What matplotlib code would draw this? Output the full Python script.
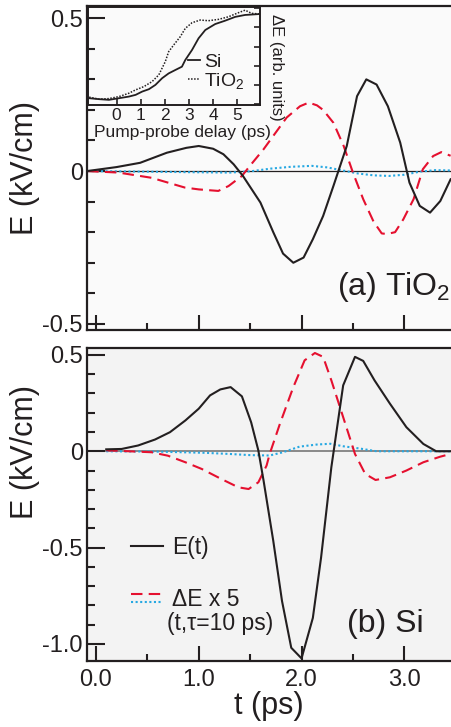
import matplotlib.pyplot as plt
from matplotlib.ticker import MultipleLocator, FixedLocator
from matplotlib.legend_handler import HandlerBase
from matplotlib.lines import Line2D

plt.rcParams['font.family'] = ['Liberation Sans', 'DejaVu Sans']
plt.rcParams['mathtext.fontset'] = 'custom'
plt.rcParams['mathtext.rm'] = 'Liberation Sans'
plt.rcParams['mathtext.it'] = 'Liberation Sans:italic'

INK = '#231f20'
RED = '#e5102f'
BLUE = '#26a8e2'

# ---- (a) TiO2 panel data ----
ta_E = [-0.085, 0.2, 0.43, 0.69, 0.88, 1.0, 1.14, 1.24, 1.34, 1.43, 1.6, 1.725, 1.82, 1.92,
        2.02, 2.11, 2.21, 2.31, 2.44, 2.54, 2.63, 2.73, 2.84, 2.96, 3.05, 3.15, 3.25, 3.35, 3.45]
Ea = [0, 0.013, 0.027, 0.06, 0.076, 0.082, 0.073, 0.055, 0.022, -0.016, -0.103, -0.2, -0.27, -0.30,
      -0.283, -0.223, -0.147, -0.049, 0.082, 0.245, 0.30, 0.283, 0.212, 0.093, -0.038, -0.114, -0.136, -0.098, -0.027]

ta_dE = [-0.085, 0.22, 0.54, 0.865, 1.0, 1.19, 1.29, 1.42, 1.51, 1.63, 1.725, 1.855, 1.985, 2.07, 2.15,
         2.21, 2.31, 2.41, 2.5, 2.6, 2.7, 2.78, 2.83, 2.91, 2.99, 3.09, 3.18, 3.28, 3.36, 3.45]
dEa = [0, -0.005, -0.022, -0.054, -0.06, -0.065, -0.049, -0.016, 0.022, 0.071, 0.115, 0.175, 0.212, 0.224, 0.215,
       0.2, 0.158, 0.082, -0.005, -0.092, -0.165, -0.204, -0.206, -0.2, -0.158, -0.092, 0.006, 0.049, 0.062, 0.05]

ta_bl = [-0.085, 0.5, 1.0, 1.3, 1.5, 1.7, 1.9, 2.1, 2.25, 2.4, 2.55, 2.7, 2.85, 3.0, 3.15, 3.3, 3.45]
bla = [0, -0.002, -0.004, -0.005, -0.001, 0.008, 0.014, 0.017, 0.012, 0.002, -0.008, -0.014, -0.016, -0.012,
       -0.002, 0.003, 0.002]

# ---- (b) Si panel data ----
tb_E = [0.1, 0.25, 0.41, 0.575, 0.72, 0.87, 1.0, 1.11, 1.21, 1.31, 1.42, 1.51, 1.58, 1.63, 1.725, 1.81,
        1.9, 2.0, 2.11, 2.19, 2.29, 2.405, 2.52, 2.6, 2.71, 2.86, 3.02, 3.185, 3.31, 3.45]
Eb = [0.01, 0.012, 0.03, 0.061, 0.099, 0.16, 0.221, 0.29, 0.321, 0.333, 0.285, 0.15, 0.004, -0.15, -0.465, -0.777,
      -1.02, -1.075, -0.865, -0.552, -0.083, 0.342, 0.49, 0.469, 0.368, 0.247, 0.125, 0.038, 0.0, 0.0]

tb_dE = [0.1, 0.54, 0.7, 0.87, 1.03, 1.22, 1.385, 1.485, 1.58, 1.66, 1.69, 1.79, 1.92, 2.03, 2.13, 2.21,
         2.29, 2.405, 2.52, 2.62, 2.72, 2.86, 3.02, 3.185, 3.35, 3.45]
dEb = [0.005, -0.005, -0.023, -0.057, -0.092, -0.144, -0.187, -0.196, -0.161, -0.074, -0.014, 0.143, 0.333, 0.472,
       0.51, 0.49, 0.368, 0.177, -0.014, -0.118, -0.149, -0.135, -0.1, -0.057, -0.028, -0.014]

tb_bl = [0.1, 0.6, 1.06, 1.3, 1.5, 1.69, 1.82, 1.98, 2.15, 2.28, 2.405, 2.57, 2.73, 3.0, 3.45]
blb = [0.0, -0.002, -0.008, -0.014, -0.02, -0.022, -0.005, 0.024, 0.035, 0.039, 0.026, 0.014, 0.0, 0.0, 0.0]

# ---- inset: pump-probe scans ----
d_si = [-1.14, -0.73, -0.32, 0.1, 0.51, 0.79, 1.06, 1.34, 1.61, 1.89, 2.16, 2.44, 2.71, 2.85, 3.13,
        3.4, 3.68, 4.09, 4.5, 4.92, 5.33, 5.95]
v_si = [0.061, 0.051, 0.044, 0.061, 0.078, 0.096, 0.13, 0.155, 0.2, 0.27, 0.32, 0.356, 0.39, 0.46, 0.565,
        0.686, 0.773, 0.835, 0.87, 0.91, 0.93, 0.94]
d_ti = [-1.14, -0.73, -0.32, 0.1, 0.51, 0.79, 1.13, 1.47, 1.75, 2.02, 2.16, 2.37, 2.64, 2.85, 3.13,
        3.47, 3.81, 4.23, 4.64, 5.05, 5.33, 5.6, 5.95]
v_ti = [0.072, 0.051, 0.057, 0.078, 0.113, 0.148, 0.182, 0.234, 0.304, 0.443, 0.547, 0.617, 0.703, 0.79, 0.849,
        0.877, 0.87, 0.884, 0.911, 0.953, 0.98, 0.947, 0.94]

x_ticks = [0.0, 1.0, 2.0, 3.0]
x_ticklabels = ['0.0', '1.0', '2.0', '3.0']


class StackedHandler(HandlerBase):
    # draws the lines of a tuple handle one above the other
    def create_artists(self, legend, orig_handle, xdescent, ydescent, width, height, fontsize, trans):
        out = []
        for h, f in zip(orig_handle, [0.78, 0.3]):
            ln = Line2D([0, 1], [0, 1])
            ln.update_from(h)
            ln.set_data([-xdescent, -xdescent + width], [height * f - ydescent] * 2)
            ln.set_transform(trans)
            out.append(ln)
        return out


def style_main(ax, face):
    ax.set_facecolor(face)
    for s in ['left', 'top', 'bottom']:
        ax.spines[s].set_linewidth(1.6)
        ax.spines[s].set_color(INK)
    ax.spines['right'].set_visible(False)
    ax.set_xlim(-0.087, 3.454)
    ax.xaxis.set_major_locator(FixedLocator(x_ticks))
    ax.xaxis.set_minor_locator(MultipleLocator(0.5))
    ax.yaxis.set_major_locator(MultipleLocator(0.5))
    ax.yaxis.set_minor_locator(MultipleLocator(0.1))
    ax.tick_params(which='both', direction='in', color=INK, width=1.5, labelsize=17,
                   labelcolor=INK, top=False, right=False)
    ax.tick_params(axis='y', which='major', length=13, pad=3)
    ax.tick_params(axis='x', which='major', length=10.5, pad=6)
    ax.tick_params(which='minor', length=5.4)
    ax.set_ylabel('E (kV/cm)', fontsize=22, color=INK)


fig = plt.figure(figsize=(4.51, 7.27), dpi=100)
ax1 = fig.add_axes([87 / 451, 1 - 330 / 727, 364 / 451, 324 / 727])
ax2 = fig.add_axes([87 / 451, 1 - 660.7 / 727, 364 / 451, 312.7 / 727])
axin = fig.add_axes([87.7 / 451, 1 - 105 / 727, 172.3 / 451, 97.7 / 727])

# (a) TiO2
style_main(ax1, '#fafafa')
ax1.set_ylim(-0.52, 0.54)
ax1.axhline(0, color=INK, lw=0.9, zorder=1)
ax1.plot(ta_bl, bla, color=BLUE, lw=1.5, linestyle=(0, (1, 1.2)))
ax1.plot(ta_dE, dEa, color=RED, lw=1.5, linestyle=(0, (5.5, 3)))
ax1.plot(ta_E, Ea, color=INK, lw=1.5)
ax1.set_yticks([0.5, 0, -0.5], ['0.5', '0', '-0.5'])
ax1.tick_params(labelbottom=False)
ax1.yaxis.set_label_coords(-0.128, 0.5)
ax1.text(0.688, 0.108, '(a) TiO$_2$', transform=ax1.transAxes, fontsize=23, color=INK,
         ha='left', va='baseline')

# (b) Si
style_main(ax2, '#f3f3f3')
ax2.set_ylim(-1.087, 0.536)
ax2.axhline(0, color='#808080', lw=1.3, zorder=1)
ax2.plot(tb_bl, blb, color=BLUE, lw=1.5, linestyle=(0, (1, 1.2)))
l_red, = ax2.plot(tb_dE, dEb, color=RED, lw=1.5, linestyle=(0, (5.5, 3)))
l_E, = ax2.plot(tb_E, Eb, color=INK, lw=1.5)
l_blue = Line2D([], [], color=BLUE, lw=1.5, linestyle=(0, (1, 1.2)))
ax2.set_yticks([0.5, 0, -0.5, -1.0], ['0.5', '0', '-0.5', '-1.0'])
ax2.set_xticks(x_ticks, x_ticklabels)
ax2.set_xlabel('t (ps)', fontsize=22, color=INK, labelpad=0)
ax2.yaxis.set_label_coords(-0.128, 0.667)
leg = ax2.legend([l_E, (l_red, l_blue)], ['E(t)', '\u0394E x 5'],
                 handler_map={tuple: StackedHandler()}, loc='upper left',
                 bbox_to_anchor=(0.121, 0.40), frameon=False, fontsize=16.5,
                 handlelength=1.4, handletextpad=0.38, labelspacing=1.3,
                 borderpad=0, borderaxespad=0, labelcolor=INK)
ax2.text(0.22, 0.118, '(t,\u03c4=10 ps)', transform=ax2.transAxes, fontsize=16.5,
         color=INK, ha='left', va='center')
ax2.text(0.713, 0.092, '(b) Si', transform=ax2.transAxes, fontsize=23, color=INK,
         ha='left', va='baseline')

# inset
axin.set_facecolor('none')
for s in axin.spines.values():
    s.set_linewidth(1.4)
    s.set_color(INK)
axin.plot(d_si, v_si, color=INK, lw=1.3)
axin.plot(d_ti, v_ti, color=INK, lw=1.1, linestyle=(0, (1, 1)))
axin.set_xlim(-1.2, 5.95)
axin.set_ylim(-0.01, 1.01)
axin.set_xticks([0, 1, 2, 3, 4, 5])
axin.yaxis.set_major_locator(MultipleLocator(0.2))
axin.tick_params(direction='in', length=4, width=1.2, color=INK, labelsize=12.5,
                 labelcolor=INK, pad=2, left=False, labelleft=False, right=True)
axin.set_xlabel('Pump-probe delay (ps)', fontsize=12.5, color=INK)
axin.xaxis.set_label_coords(0.55, -0.2)
axin.text(1.095, 0.39, '\u0394E (arb. units)', transform=axin.transAxes, rotation=-90,
          fontsize=12, color=INK, ha='center', va='center')
axin.legend(['Si', 'TiO$_2$'], loc='upper left', bbox_to_anchor=(0.584, 0.53),
            frameon=False, fontsize=14, handlelength=0.6, handletextpad=0.2,
            labelspacing=0.0, borderpad=0, borderaxespad=0, labelcolor=INK)

fig.savefig('out.png', dpi=100)
